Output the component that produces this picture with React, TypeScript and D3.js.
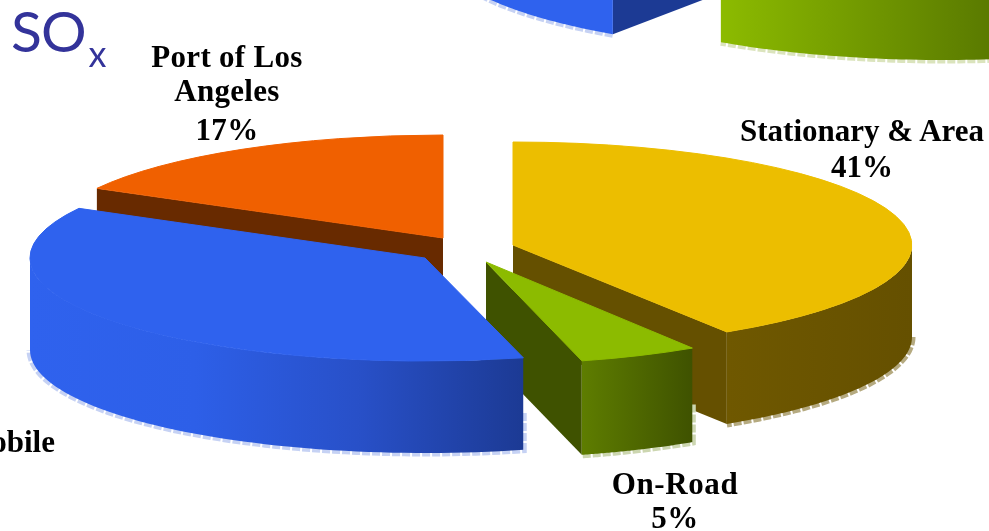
import React from "react";
import * as d3 from "d3";

// ---- data ----
const categories = ["Stationary & Area", "On-Road", "Off-Road Mobile", "Port of Los Angeles"];
const soxValues = [41, 5, 37, 17];
// the pie above only shows the bottom of two of its slices
const upperCategories = ["Stationary & Area", "On-Road", "Off-Road Mobile"];
const upperValues = [40, 19.5, 40.5];

// ---- styling & layout ----
const W = 989, H = 531;
type Look = { top: string; inner: string; wall: string[]; fringe: string };
const looks: Record<string, Look> = {
  "Stationary & Area": { top: "#ecbe00", inner: "#655000", wall: ["#6f5800", "#655000"], fringe: "#b5aa80" },
  "On-Road": { top: "#8cbb00", inner: "#3f5200", wall: ["#5e7d00", "#3f5200"], fringe: "#ccd6b0" },
  "Off-Road Mobile": { top: "#2f62ee", inner: "#1c3a94", wall: ["#2f62ee", "#2d5fe8", "#2850c8", "#1c3a94"], fringe: "#c6d2f4" },
  "Port of Los Angeles": { top: "#f06000", inner: "#682a00", wall: ["#682a00", "#682a00"], fringe: "#ffffff" },
};
const upperLooks: Record<string, Look> = {
  ...looks,
  "On-Road": { ...looks["On-Road"], wall: ["#8cbb00", "#5a7a00"], fringe: "#dbe4bd" },
  "Off-Road Mobile": { ...looks["Off-Road Mobile"], wall: ["#2f62ee", "#2f62ee"] },
};
type A = { cx: number; cy: number; rx: number; ry: number; depth: number; order: number };
const lowerAnchors: Record<string, A> = {
  "Stationary & Area": { cx: 513, cy: 245, rx: 399, ry: 103, depth: 92, order: 1 },
  "On-Road": { cx: 486, cy: 262, rx: 385, ry: 102, depth: 94, order: 2 },
  "Off-Road Mobile": { cx: 425, cy: 258, rx: 395, ry: 103, depth: 92, order: 3 },
  "Port of Los Angeles": { cx: 443, cy: 238, rx: 395, ry: 103, depth: 92, order: 0 },
};
const upperAnchors: Record<string, A> = {
  "Stationary & Area": { cx: 1500, cy: -200, rx: 397, ry: 103, depth: 92, order: 0 },
  "On-Road": { cx: 944, cy: -135, rx: 397, ry: 103, depth: 92, order: 1 },
  "Off-Road Mobile": { cx: 836, cy: -143, rx: 397, ry: 103, depth: 92, order: 2 },
};
const labels = [
  { lines: ["Port of Los", "Angeles", "17%"], x: 227, ys: [67, 101, 140], anchor: "middle", spacing: 0.3 },
  { lines: ["Stationary & Area", "41%"], x: 862, ys: [141, 177], anchor: "middle", spacing: 0 },
  { lines: ["On-Road", "5%"], x: 675, ys: [494, 528], anchor: "middle", spacing: 0.6 },
  { lines: ["Off-Road Mobile"], x: 55, ys: [452], anchor: "end", spacing: 0 },
];

const pie = d3.pie<number>().sort(null).startAngle(0).endAngle(2 * Math.PI);
const faceArc = d3.arc<d3.PieArcDatum<number>>().innerRadius(0).outerRadius(1);

const px = (a: A, t: number) => a.cx + a.rx * Math.sin(t);
const py = (a: A, t: number) => a.cy - a.ry * Math.cos(t);

function frontWall(a: A, from: number, to: number): string {
  const ts = d3.range(0, 61).map((i) => from + ((to - from) * i) / 60);
  const pts: [number, number][] = [
    ...ts.map((t) => [px(a, t), py(a, t)] as [number, number]),
    ...ts.slice().reverse().map((t) => [px(a, t), py(a, t) + a.depth] as [number, number]),
  ];
  return d3.line()(pts) + "Z";
}
function bottomEdge(a: A, from: number, to: number, rises: boolean): string {
  const ts = d3.range(0, 61).map((i) => from + ((to - from) * i) / 60);
  const pts = ts.map((t) => [px(a, t), py(a, t) + a.depth] as [number, number]);
  if (rises) pts.unshift([px(a, from), py(a, from) + a.depth * 0.6]);
  return d3.line()(pts) as string;
}
function radialWall(a: A, t: number): string {
  return (
    d3.line()([
      [a.cx, a.cy],
      [px(a, t), py(a, t)],
      [px(a, t), py(a, t) + a.depth],
      [a.cx, a.cy + a.depth],
    ]) + "Z"
  );
}

function Slice({ name, look, d, a, id }: { name: string; look: Look; d: d3.PieArcDatum<number>; a: A; id: string }) {
  const s = d.startAngle, e = d.endAngle;
  const from = Math.max(s, Math.PI / 2), to = Math.min(e, (3 * Math.PI) / 2);
  const hasFront = to > from;
  const xs = hasFront ? d3.range(0, 21).map((i) => px(a, from + ((to - from) * i) / 20)) : [0, 1];
  const x0 = d3.min(xs)!, x1 = Math.min(d3.max(xs)!, W);
  const stopScale = d3.scaleLinear().domain([0, look.wall.length - 1]).range([0, 100]);
  const showStart = s > Math.PI; // side faces the viewer
  const showEnd = e < Math.PI;
  const rises = s > Math.PI / 2 && s < Math.PI;
  return (
    <g>
      <defs>
        <linearGradient id={id} gradientUnits="userSpaceOnUse" x1={x0} x2={x1} y1={0} y2={0}>
          {look.wall.map((c, i) => (
            <stop key={i} offset={`${stopScale(i)}%`} stopColor={c} />
          ))}
        </linearGradient>
      </defs>
      {hasFront && name !== "Port of Los Angeles" && (
        <path d={bottomEdge(a, from, to, rises)} fill="none" stroke={look.fringe} strokeWidth={7} strokeDasharray="8 2" />
      )}
      {showStart && <path d={radialWall(a, s)} fill={look.inner} />}
      {showEnd && <path d={radialWall(a, e)} fill={look.inner} />}
      {hasFront && <path d={frontWall(a, from, to)} fill={`url(#${id})`} />}
      <path
        d={faceArc(d) as string}
        transform={`translate(${a.cx},${a.cy}) scale(${a.rx},${a.ry})`}
        fill={look.top}
        stroke={look.top}
        strokeWidth={1}
        vectorEffect="non-scaling-stroke"
      />
    </g>
  );
}

function Pie({ names, values, anchors, lookup, prefix }: { names: string[]; values: number[]; anchors: Record<string, A>; lookup: Record<string, Look>; prefix: string }) {
  const arcs = pie(values).map((d, i) => ({ d, name: names[i], a: anchors[names[i]] }));
  const ordered = arcs.slice().sort((p, q) => p.a.order - q.a.order);
  return (
    <g>
      {ordered.map((o, i) => (
        <Slice key={o.name} name={o.name} look={lookup[o.name]} d={o.d} a={o.a} id={`${prefix}${i}`} />
      ))}
    </g>
  );
}

export default function App() {
  return (
    <svg
      width={W}
      height={H}
      viewBox={`0 0 ${W} ${H}`}
      style={{ position: "absolute", left: 0, top: 0, background: "#fff" }}
    >
      <g style={{ filter: "blur(0.6px)" }}>
        <Pie names={upperCategories} values={upperValues} anchors={upperAnchors} lookup={upperLooks} prefix="u" />
        <Pie names={categories} values={soxValues} anchors={lowerAnchors} lookup={looks} prefix="l" />
      </g>
      <text x={11} y={52} fontFamily="Lato, 'Open Sans', sans-serif" fontSize={57} letterSpacing={-1} fill="#33339a">
        SO
        <tspan fontSize={36} dx={3} dy={15}>x</tspan>
      </text>
      {labels.map((l, i) => (
        <text key={i} fontFamily="'Liberation Serif', serif" fontWeight="bold" fontSize={31} letterSpacing={l.spacing} fill="#000" textAnchor={l.anchor}>
          {l.lines.map((t, j) => (
            <tspan key={j} x={l.x} y={l.ys[j]}>{t}</tspan>
          ))}
        </text>
      ))}
    </svg>
  );
}
